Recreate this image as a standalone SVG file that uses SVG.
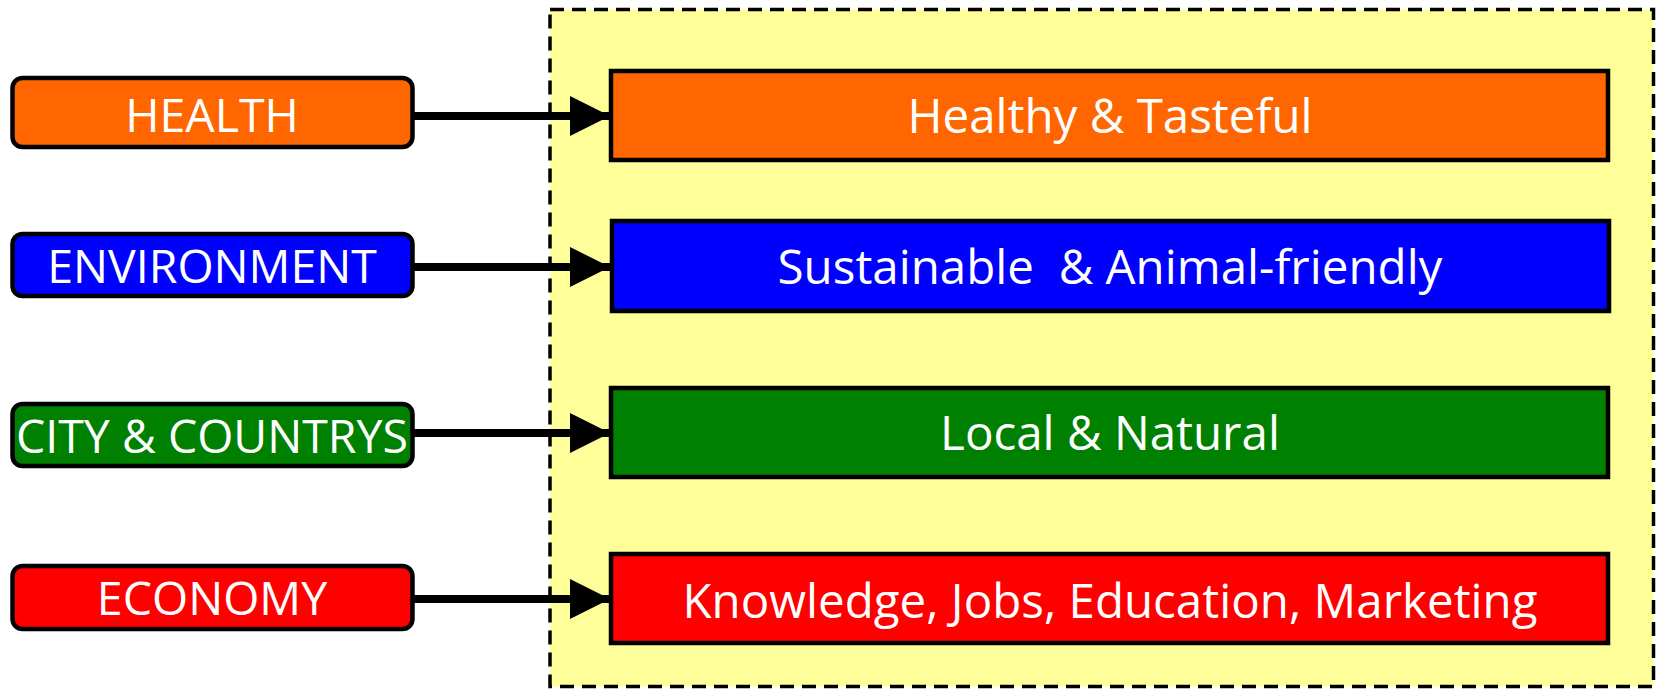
<svg xmlns="http://www.w3.org/2000/svg" width="1658" height="689" viewBox="0 0 1658 689">
<style>
.src{stroke:#000;stroke-width:4.5}
.dst{stroke:#000;stroke-width:4.5}
.t{font-family:"Open Sans","Liberation Sans",sans-serif;font-size:46.5px;fill:#fff;text-anchor:middle;white-space:pre}
.r{font-size:47.5px}
.conn{stroke:#000;stroke-width:8;fill:none}
</style>
<defs>
<marker id="ah" markerUnits="userSpaceOnUse" markerWidth="40" markerHeight="40" viewBox="0 0 38 38" refX="38" refY="19" orient="auto">
<path d="M0,0 L38,19 L0,38 z" fill="#000"/>
</marker>
</defs>
<g id="container">
<rect x="550" y="9.5" width="1103.5" height="677" fill="#FFFF99" stroke="#000" stroke-width="3.5" stroke-dasharray="14,8"/>
</g>
<g id="health"><rect class="src" x="12.5" y="78" width="400" height="69" rx="10" fill="#FF6600"/><text class="t" x="212" y="132">HEALTH</text></g>
<g id="environment"><rect class="src" x="12.5" y="234" width="400" height="62" rx="10" fill="#0000FF"/><text class="t" x="212" y="283">ENVIRONMENT</text></g>
<g id="city"><rect class="src" x="12.5" y="404" width="400" height="62" rx="10" fill="#008000"/><text class="t" x="212" y="453" textLength="392" lengthAdjust="spacingAndGlyphs">CITY &amp; COUNTRYS</text></g>
<g id="economy"><rect class="src" x="12.5" y="566" width="400" height="63" rx="10" fill="#FF0000"/><text class="t" x="212" y="615">ECONOMY</text></g>
<g id="healthy"><rect class="dst" x="611" y="71" width="997" height="89" fill="#FF6600"/><text class="t r" x="1110" y="133">Healthy &amp; Tasteful</text></g>
<g id="sustainable"><rect class="dst" x="612" y="221" width="997" height="90" fill="#0000FF"/><text class="t r" x="1110" y="284">Sustainable  &amp; Animal-friendly</text></g>
<g id="local"><rect class="dst" x="611" y="388" width="997" height="89" fill="#008000"/><text class="t r" x="1110" y="450">Local &amp; Natural</text></g>
<g id="knowledge"><rect class="dst" x="611" y="554" width="997" height="89" fill="#FF0000"/><text class="t r" x="1110" y="618">Knowledge, Jobs, Education, Marketing</text></g>
<g id="connectors">
<line class="conn" x1="414" y1="116" x2="610" y2="116" marker-end="url(#ah)"/>
<line class="conn" x1="414" y1="267" x2="610" y2="267" marker-end="url(#ah)"/>
<line class="conn" x1="414" y1="433" x2="610" y2="433" marker-end="url(#ah)"/>
<line class="conn" x1="414" y1="599" x2="610" y2="599" marker-end="url(#ah)"/>
</g>
</svg>
